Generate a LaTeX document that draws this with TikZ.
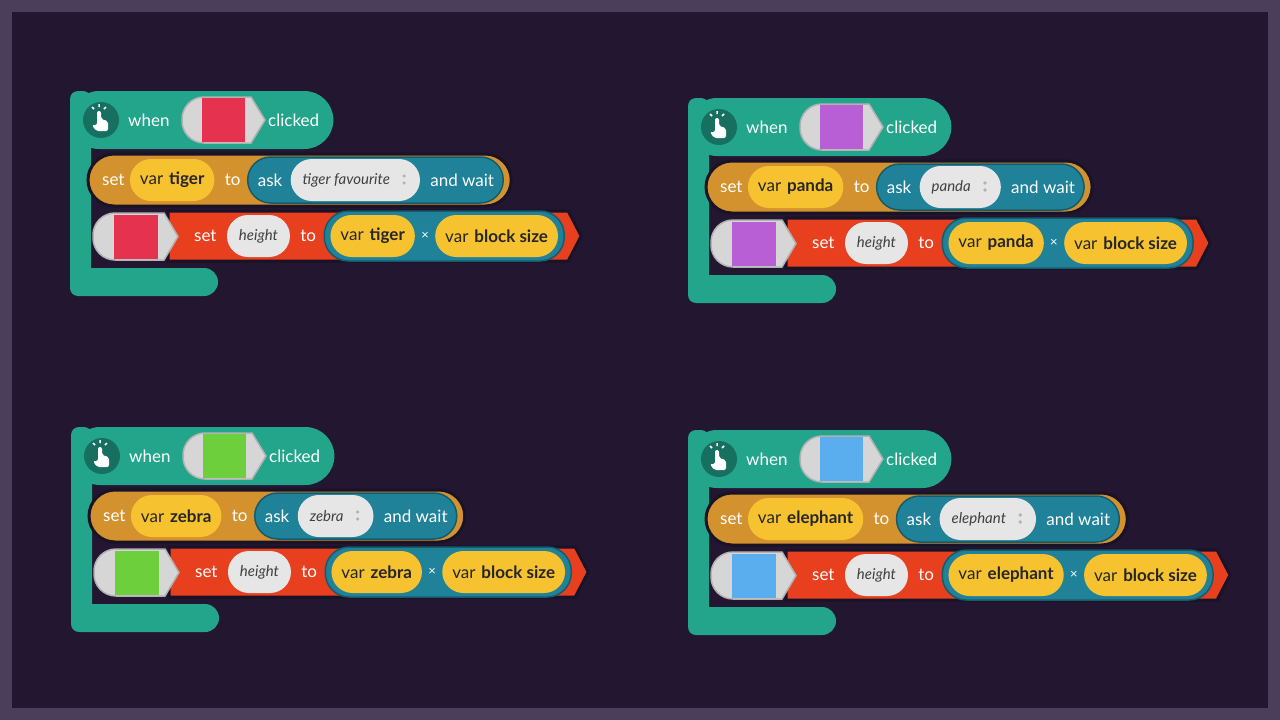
\documentclass[tikz,border=0pt]{standalone}
\usepackage{fontspec}
\setmainfont{Lato}
\usetikzlibrary{positioning,calc}
\definecolor{framec}{HTML}{4B3E5A}
\definecolor{bgc}{HTML}{231631}
\definecolor{hatgreen}{HTML}{22A58A}
\definecolor{icongreen}{HTML}{17705F}
\definecolor{orangec}{HTML}{D4922E}
\definecolor{yellowc}{HTML}{F6C230}
\definecolor{tealc}{HTML}{1F8299}
\definecolor{pillc}{HTML}{E6E6E6}
\definecolor{redc}{HTML}{E8401F}
\definecolor{greyc}{HTML}{D6D6D6}
\definecolor{edgec}{HTML}{1A1226}
\definecolor{swred}{HTML}{E5334F}
\definecolor{swpurple}{HTML}{B85FD6}
\definecolor{swgreen}{HTML}{6ECF3C}
\definecolor{swblue}{HTML}{5AAEEE}
\pgfdeclarelayer{framelayer}
\pgfdeclarelayer{rowlayer}
\pgfdeclarelayer{teallayer}
\pgfsetlayers{framelayer,rowlayer,teallayer,main}
\tikzset{lbl/.style = {text=white,inner sep=0pt,font=\fontsize{17}{19}\selectfont}}
\tikzset{varpill/.style = {fill=yellowc,rounded corners=21,minimum height=42,inner xsep=10,text=black!85,font=\fontsize{17}{19}\selectfont}}
\tikzset{whitepill/.style = {fill=pillc,rounded corners=21,minimum height=42,inner xsep=12,text=black!75,font=\fontsize{15}{17}\selectfont\itshape}}
\tikzset{rowedge/.style = {draw=edgec,line width=3}}

\newcommand\swatchshape[4]{% left, right, top, bottom
  \filldraw[fill=greyc,draw=black!30,line width=1.5] ({#2-14},#3) -- (#2,{(#3+#4)/2}) -- ({#2-14},#4)
    [rounded corners=22] -- (#1,#4) -- (#1,#3) [sharp corners] -- cycle;}

\newcommand\blockgroup[6]{% x, y, swatch colour, variable, prompt, prefix
  \begin{scope}[shift={(#1,#2)}]
    % hat
    \fill[icongreen] (31,29) circle (18);
    \fill[white,rounded corners=2] (27,34) -- (27,20) -- (31,20) -- (31,28) -- (38,30) -- (38,40) -- (26,40) -- (22,34) -- cycle;
    \draw[white,line width=1.5] (29,16) -- (29,13) (24,18) -- (22,16) (34,18) -- (36,16);
    \node[lbl,anchor=west] (#6when) at (58,29) {when};
    \swatchshape{112}{195}{6}{52}
    \fill[#3] (132,7) rectangle (175,51);
    \node[lbl,anchor=west] (#6clicked) at (198,29) {clicked};
    \begin{pgfonlayer}{framelayer}
      \fill[hatgreen,rounded corners=8] (0,0) rectangle (21,205);
      \fill[hatgreen,rounded corners=29] (0,0) rectangle ($(#6clicked.east)+(14,29)$);
      \fill[hatgreen,rounded corners=14] (0,177) rectangle (148,205);
    \end{pgfonlayer}
    % set ... ask
    \node[lbl,anchor=west] (#6set) at (32,89) {set};
    \node[varpill,right=5 of #6set] (#6var) {var\hspace{6pt}\textbf{#4}};
    \node[lbl,right=10 of #6var] (#6to) {to};
    \node[lbl,right=17 of #6to] (#6ask) {ask};
    \node[whitepill,right=8 of #6ask] (#6prompt) {#5\kern18pt};
    \fill[black!30] ($(#6prompt.east)+(-16,-4)$) circle (1.8) ($(#6prompt.east)+(-16,3)$) circle (1.8);
    \node[lbl,right=10 of #6prompt] (#6wait) {and wait};
    \begin{pgfonlayer}{teallayer}
      \filldraw[fill=tealc,draw=tealc!70!black,line width=1.5,rounded corners=23] ($(#6ask.west)+(-10,-23)$) rectangle ($(#6wait.east)+(9,23)$);
    \end{pgfonlayer}
    \begin{pgfonlayer}{rowlayer}
      \filldraw[fill=orangec,rowedge,rounded corners=26] ($(#6set.west)+(-14,-26)$) rectangle ($(#6wait.east)+(17,26)$);
    \end{pgfonlayer}
    % set height
    \swatchshape{23}{108}{122}{169}
    \fill[#3] (44,124) rectangle (88,168);
    \node[lbl,anchor=west] (#6set2) at (124,145) {set};
    \node[whitepill,right=10 of #6set2] (#6height) {height};
    \node[lbl,right=10 of #6height] (#6to2) {to};
    \node[varpill,right=14 of #6to2] (#6varA) {var\hspace{6pt}\textbf{#4}};
    \node[lbl,right=6 of #6varA] (#6times) {\fontsize{13}{15}\selectfont ×};
    \node[varpill,right=6 of #6times] (#6varB) {var\hspace{6pt}\textbf{block size}};
    \coordinate (#6re) at ($(#6varB.east)+(10,0)$);
    \begin{pgfonlayer}{teallayer}
      \filldraw[fill=tealc,draw=tealc!70!black,line width=1.5,rounded corners=24] ($(#6varA.west)+(-6,-25)$) rectangle ($(#6varB.east)+(6,25)$);
    \end{pgfonlayer}
    \begin{pgfonlayer}{rowlayer}
      \filldraw[fill=redc,rowedge] (98,120) -- ($(#6re)+(0,-25)$) -- ($(#6re)+(13,0)$) -- ($(#6re)+(0,25)$) -- (98,170) -- cycle;
    \end{pgfonlayer}
  \end{scope}}

\begin{document}
\begin{tikzpicture}[x=1pt,y=-1pt]
  \begin{pgfonlayer}{framelayer}
    \fill[framec] (0,0) rectangle (1280,720);
    \fill[bgc] (12,12) rectangle (1268,708);
  \end{pgfonlayer}
  \blockgroup{70}{91}{swred}{tiger}{tiger favourite}{tl}
  \blockgroup{688}{98}{swpurple}{panda}{panda}{tr}
  \blockgroup{71}{427}{swgreen}{zebra}{zebra}{bl}
  \blockgroup{688}{430}{swblue}{elephant}{elephant}{br}
\end{tikzpicture}
\end{document}
